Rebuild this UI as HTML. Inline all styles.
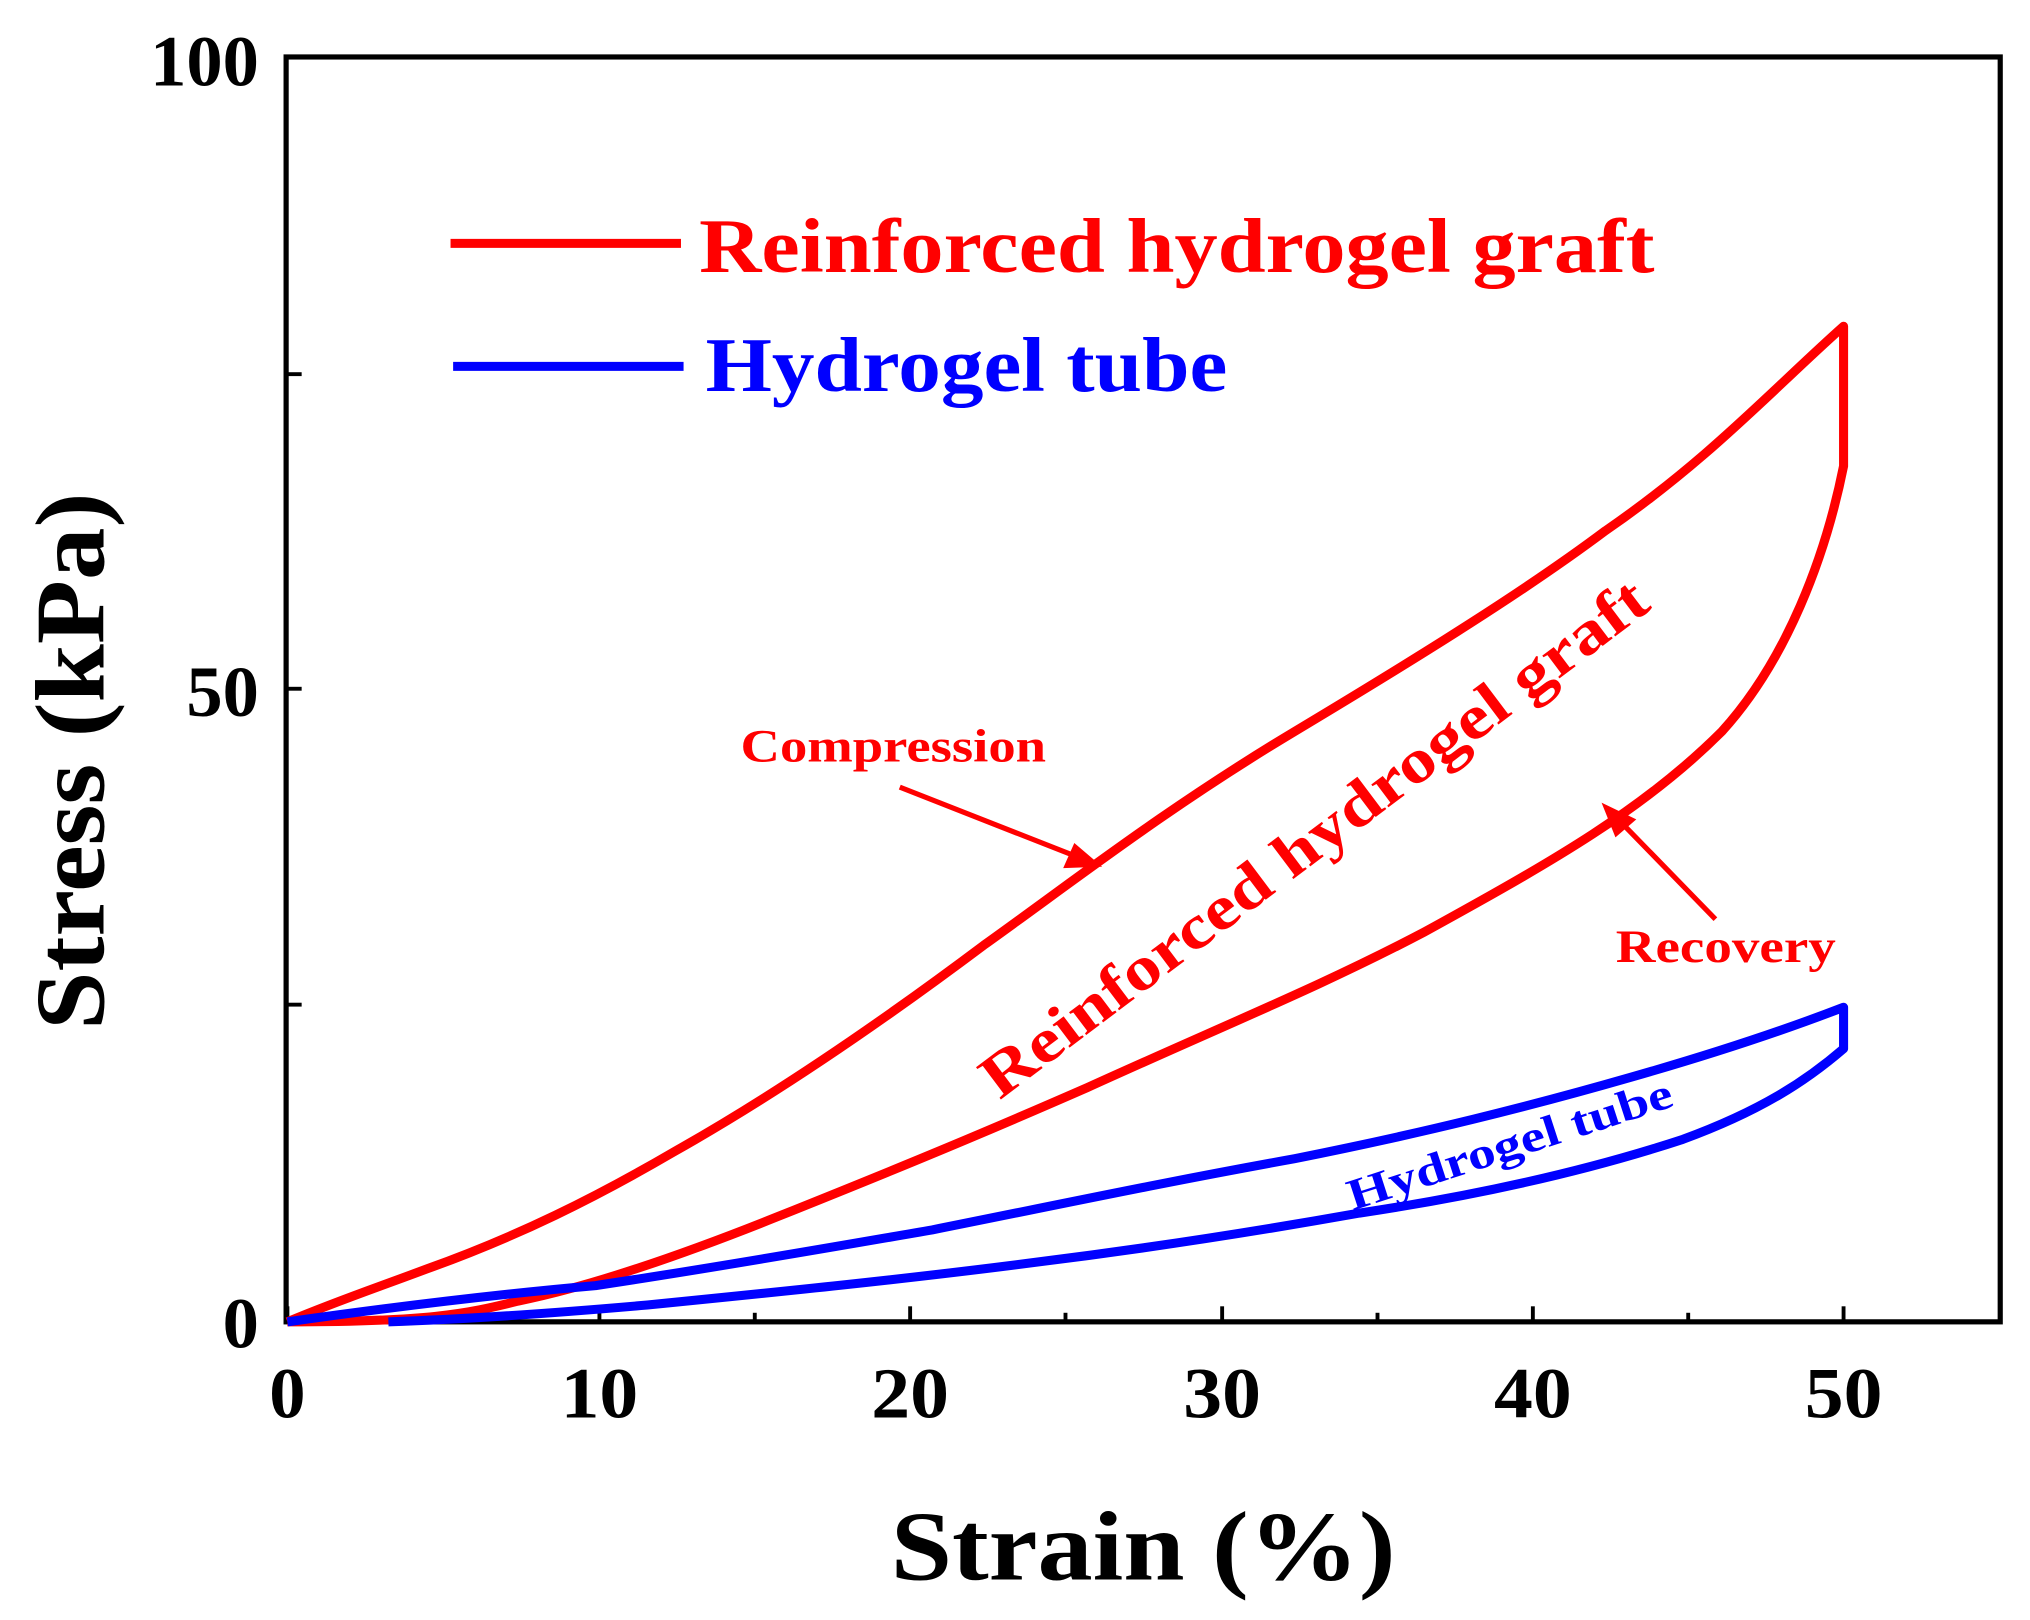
<!DOCTYPE html>
<html><head><meta charset="utf-8"><style>html,body{margin:0;padding:0;background:#fff}svg{display:block}</style></head>
<body>
<svg width="2030" height="1620" viewBox="0 0 1568 1251.3" preserveAspectRatio="none" xmlns="http://www.w3.org/2000/svg" font-family="'Liberation Serif', serif" font-weight="bold">
<rect width="1568" height="1251.3" fill="#fff"/>
<rect x="221" y="44" width="1324" height="977" fill="none" stroke="#000" stroke-width="4"/>
<g stroke="#000" stroke-width="3">
<line x1="222" y1="1021" x2="222" y2="1009"/><line x1="342" y1="1021" x2="342" y2="1014"/>
<line x1="463" y1="1021" x2="463" y2="1009"/><line x1="583" y1="1021" x2="583" y2="1014"/>
<line x1="703" y1="1021" x2="703" y2="1009"/><line x1="823" y1="1021" x2="823" y2="1014"/>
<line x1="944" y1="1021" x2="944" y2="1009"/><line x1="1064" y1="1021" x2="1064" y2="1014"/>
<line x1="1184" y1="1021" x2="1184" y2="1009"/><line x1="1304" y1="1021" x2="1304" y2="1014"/>
<line x1="1424" y1="1021" x2="1424" y2="1009"/>
<line x1="221" y1="776" x2="233" y2="776"/><line x1="221" y1="532" x2="233" y2="532"/><line x1="221" y1="289" x2="233" y2="289"/>
</g>
<g font-size="56" text-anchor="middle">
<text x="222" y="1095">0</text><text x="463" y="1095" textLength="60" lengthAdjust="spacingAndGlyphs">10</text><text x="703" y="1095" textLength="60" lengthAdjust="spacingAndGlyphs">20</text>
<text x="944" y="1095" textLength="60" lengthAdjust="spacingAndGlyphs">30</text><text x="1184" y="1095" textLength="60" lengthAdjust="spacingAndGlyphs">40</text><text x="1424" y="1095" textLength="60" lengthAdjust="spacingAndGlyphs">50</text>
</g>
<g font-size="56" text-anchor="end">
<text x="200" y="1041">0</text><text x="200" y="553">50</text><text x="200" y="66">100</text>
</g>
<text x="883" y="1220" font-size="76" text-anchor="middle" textLength="390" lengthAdjust="spacingAndGlyphs">Strain (%)</text>
<text transform="translate(80,588) rotate(-90)" font-size="76" text-anchor="middle" textLength="415" lengthAdjust="spacingAndGlyphs">Stress (kPa)</text>
<g fill="none" stroke-width="7" stroke-linejoin="round">
<path stroke="#f00" d="M222,1021 C260,1005 290,995 330,980 C400,955 460,925 520,890 C600,845 680,790 760,730 C830,680 900,625 1000,565 C1100,505 1180,455 1240,410 C1320,355 1370,300 1424,252 L1424,360 C1410,430 1380,510 1330,565 C1270,625 1200,665 1100,720 C1020,762 950,790 840,840 C760,875 700,900 600,940 C520,972 450,995 400,1005 C360,1015 330,1021 222,1021"/>
<path stroke="#00f" d="M222,1021 C300,1010 380,1000 460,993 C560,978 650,962 720,950 C820,930 900,913 1000,895 C1100,875 1180,855 1260,832 C1330,812 1380,795 1424,778 L1424,810 C1395,835 1360,858 1300,880 C1230,903 1150,922 1050,937 C960,953 880,965 800,975 C700,988 600,998 500,1008 C420,1015 360,1019 300,1021"/>
<line x1="348" y1="188" x2="526" y2="188" stroke="#f00"/>
<line x1="350" y1="283" x2="528" y2="283" stroke="#00f"/>
</g>
<text x="540" y="210" font-size="60" fill="#f00" textLength="738" lengthAdjust="spacingAndGlyphs">Reinforced hydrogel graft</text>
<text x="545" y="302" font-size="60" fill="#00f" textLength="403" lengthAdjust="spacingAndGlyphs">Hydrogel tube</text>
<text transform="translate(772,850) rotate(-37)" font-size="48" fill="#f00" textLength="632" lengthAdjust="spacingAndGlyphs">Reinforced hydrogel graft</text>
<text transform="translate(1045,935) rotate(-18)" font-size="34" fill="#00f" textLength="262" lengthAdjust="spacingAndGlyphs">Hydrogel tube</text>
<text x="572" y="588" font-size="36" fill="#f00" textLength="236" lengthAdjust="spacingAndGlyphs">Compression</text>
<text x="1248" y="743" font-size="36" fill="#f00" textLength="170" lengthAdjust="spacingAndGlyphs">Recovery</text>
<g stroke="#f00" stroke-width="4" fill="#f00">
<line x1="695" y1="608" x2="830" y2="661"/>
<polygon points="850,669 822,670 830,652" stroke-width="1"/>
<line x1="1325" y1="710" x2="1253" y2="636"/>
<polygon points="1238,621 1263,633 1248,646" stroke-width="1"/>
</g>
</svg>
</body></html>
